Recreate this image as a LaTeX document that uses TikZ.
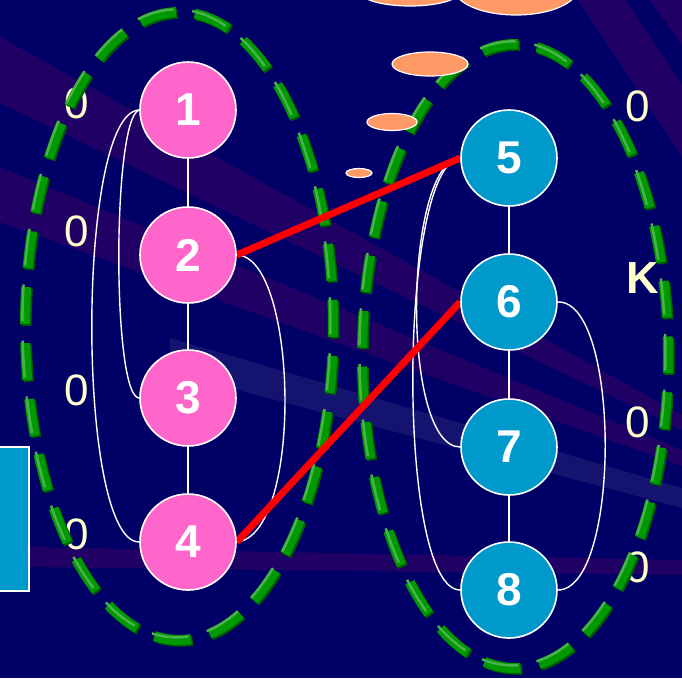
\documentclass[tikz,border=0pt]{standalone}
\usepackage{fontspec}
\setmainfont{Liberation Sans}
\definecolor{navy}{RGB}{0,0,102}
\definecolor{bandpurple}{RGB}{33,0,102}
\definecolor{bandlight}{RGB}{20,20,112}
\definecolor{nodepink}{RGB}{255,102,204}
\definecolor{nodeblue}{RGB}{0,153,204}
\definecolor{labelyellow}{RGB}{255,255,204}
\definecolor{salmon}{RGB}{255,153,102}
\definecolor{ringgreen}{RGB}{0,153,0}
\definecolor{ringshadow}{RGB}{0,92,0}
\definecolor{ringlight}{RGB}{75,178,75}
\pgfdeclarelayer{back}
\pgfdeclarelayer{edges}
\pgfsetlayers{back,edges,main}
% dashed ring with a shaded 3D look: #1,#2 centre, #3,#4 radii, #5 period, #6 dash length, #7 phase
\newcommand\dashring[7]{%
  \foreach \sx/\sy/\col/\w in {1.7/1.7/ringshadow/10, 0/0/ringgreen/10, -2.6/-2.6/ringlight/2.5}{%
    \draw[\col, line width=\w pt, dash pattern=on #6pt off \fpeval{#5-#6}pt, dash phase=#7pt,
          shift={(\sx,\sy)}]
      plot[domain=90:450, samples=240, smooth] ({#1+#3*cos(\x)},{#2-#4*sin(\x)});
  }%
}
\begin{document}
\begin{tikzpicture}[x=1pt,y=-1pt,
  vertex/.style={circle, draw=white, line width=1.6pt, minimum size=96pt, inner sep=0pt,
    text=white, font=\fontsize{46}{46}\selectfont\bfseries},
  leftv/.style={vertex, fill=nodepink},
  rightv/.style={vertex, fill=nodeblue},
  link/.style={white, line width=1.4pt},
  cut/.style={red, line width=7pt},
  tag/.style={text=labelyellow, inner sep=0pt, font=\fontsize{44}{44}\selectfont},
  boldtag/.style={tag, font=\fontsize{45}{45}\selectfont\bfseries},
  bubble/.style={fill=salmon, draw=white, line width=1.2pt}]

\useasboundingbox (0,0) rectangle (682,678);

% vertices
\node[leftv]  (n1) at (188,110) {1};
\node[leftv]  (n2) at (188,255) {2};
\node[leftv]  (n3) at (188,398) {3};
\node[leftv]  (n4) at (188,542) {4};
\node[rightv] (n5) at (509,158) {5};
\node[rightv] (n6) at (509,302) {6};
\node[rightv] (n7) at (509,447) {7};
\node[rightv] (n8) at (509,590) {8};

\begin{pgfonlayer}{back}
  % background and light rays
  \fill[navy] (0,0) rectangle (682,678);
  \fill[bandpurple] (0,37) -- (682,415) -- (682,430) -- (0,103) -- cycle;
  \fill[bandpurple] (0,167) -- (682,450) -- (682,466) -- (0,222) -- cycle;
  \fill[bandlight] (170,338) -- (682,488) -- (682,508) -- (170,372) -- cycle;
  \fill[bandpurple] (30,547) -- (682,560) -- (682,575) -- (30,567) -- cycle;
  \fill[bandpurple] (578,0) -- (625,0) -- (682,85) -- (682,157) -- cycle;
  \fill[bandpurple] (650,0) -- (682,0) -- (682,45) -- cycle;

  % side labels
  \node[tag] (l1) at (77,103) {0};
  \node[tag] (l2) at (77,231) {0};
  \node[tag] (l3) at (77,390) {0};
  \node[tag] (l4) at (77,534) {0};
  \node[tag] (r1) at (638,106) {0};
  \node[boldtag] (rk) at (643,278) {K};
  \node[tag] (r3) at (638,422) {0};
  \node[tag] (r4) at (638,567) {0};

  % the two groups
  \dashring{179}{326}{154}{314}{56.06}{37}{53}
  \dashring{515}{356}{153}{312}{55.7}{36.7}{3.4}

  % thought bubbles
  \draw[bubble] (410,-9) ellipse [x radius=51pt, y radius=15pt];
  \draw[bubble] (516,-12) ellipse [x radius=62pt, y radius=27pt];
  \draw[bubble] (430,64) ellipse [x radius=38pt, y radius=12pt];
  \draw[bubble] (392,122) ellipse [x radius=25pt, y radius=8.5pt];
  \draw[bubble] (359,173) ellipse [x radius=13pt, y radius=4.5pt];

  % side box
  \draw[fill=nodeblue, draw=white, line width=1.5pt] (-5,447) rectangle (29,591);
\end{pgfonlayer}

\begin{pgfonlayer}{edges}
  \draw[link] (n1) -- (n2) (n2) -- (n3) (n3) -- (n4);
  \draw[link] (n5) -- (n6) (n6) -- (n7) (n7) -- (n8);
  \draw[link] (n1.west) .. controls (112,118) and (112,398) .. (n3.west);
  \draw[link] (n1.west) .. controls (76,112) and (76,542) .. (n4.west);
  \draw[link] (n2.east) .. controls (298,256) and (304,535) .. (n4.east);
  \draw[link] (n5.west) .. controls (404,162) and (400,447) .. (n7.west);
  \draw[link] (n5.west) .. controls (398,165) and (396,590) .. (n8.west);
  \draw[link] (n6.east) .. controls (621,300) and (621,590) .. (n8.east);
  \draw[cut] (n2.east) -- (n5.west);
  \draw[cut] (n4.east) -- (n6.west);
\end{pgfonlayer}
\end{tikzpicture}
\end{document}
